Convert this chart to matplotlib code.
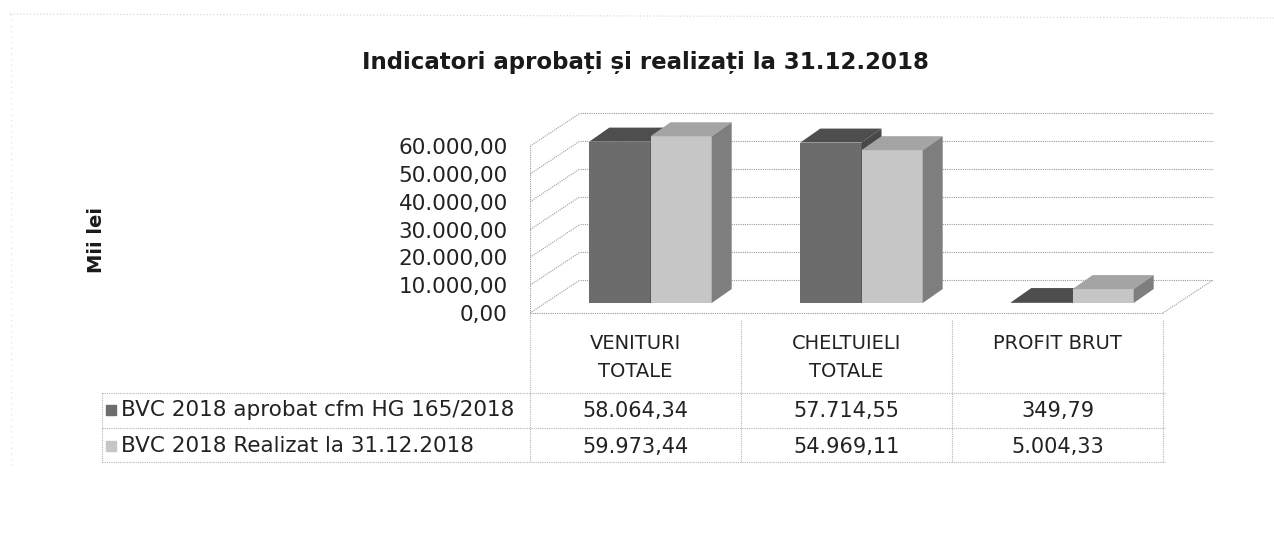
import matplotlib
matplotlib.use("Agg")
import matplotlib.pyplot as plt
from matplotlib.patches import Polygon, Rectangle
from matplotlib.transforms import blended_transform_factory

# data
categories = ["VENITURI\nTOTALE", "CHELTUIELI\nTOTALE", "PROFIT BRUT"]
series_names = ["BVC 2018 aprobat cfm HG 165/2018", "BVC 2018 Realizat la 31.12.2018"]
aprobat = [58064.34, 57714.55, 349.79]
realizat = [59973.44, 54969.11, 5004.33]
yticks = [0, 10000, 20000, 30000, 40000, 50000, 60000]

W, H = 1274, 546
plt.rcParams['font.family'] = ['DejaVu Sans']


def fx(px):
    return px / W


def fy(py):
    return 1 - py / H


def ro(v):
    # romanian number format 58.064,34
    return f"{v:,.2f}".replace(",", "X").replace(".", ",").replace("X", ".")


fig = plt.figure(figsize=(12.74, 5.46), dpi=100)
fig.patch.set_facecolor("white")

# axes: x in category units, y in value units
px_cat = 211.0          # pixels per category
px_val = 2.78 / 1000.0  # pixels per unit value
ax = fig.add_axes([fx(530), fy(329.7), 3.3 * px_cat / W, 82000 * px_val / H])
ax.set_xlim(0, 3.3)
ax.set_ylim(-6000, 76000)
for s in ax.spines.values():
    s.set_visible(False)
ax.set_xticks([])
ax.set_yticks(yticks)
ax.set_yticklabels([ro(t) for t in yticks], fontsize=15.5, color="#222222")
ax.tick_params(axis="y", length=0, pad=16)


def ddx(px):
    return px / px_cat


def ddy(px):
    return px / px_val


# wall depth and bar depth offsets
wx, wy = ddx(50), ddy(33)
bx, by = ddx(15), ddy(10)
dx, dy = ddx(20), ddy(14)
ymax = yticks[-1]
ncat = len(categories)

gkw = dict(color="#9a9a9a", lw=0.8, ls=(0, (1, 1)), zorder=1)
# left wall and back wall gridlines
for t in yticks:
    ax.plot([0, wx], [t, t + wy], **gkw)
    ax.plot([wx, ncat + wx], [t + wy, t + wy], **gkw)
ax.plot([0, 0], [0, ymax], **gkw)
# floor
ax.plot([0, ncat], [0, 0], **gkw)
ax.plot([ncat, ncat + wx], [0, wy], **gkw)

# bars (front, top, side)
w = 0.29
colors = [("#6c6c6c", "#4e4e4e", "#484848"), ("#c6c6c6", "#a4a4a4", "#7e7e7e")]
for i in range(ncat):
    for k, vals in enumerate([aprobat, realizat]):
        v = vals[i]
        xl = i + 0.5 - w + k * w + bx
        xr = xl + w
        front, top, side = colors[k]
        ax.bar(xl, v, width=w, bottom=by, align="edge", color=front,
               edgecolor="none", zorder=3 + k)
        ax.add_patch(Polygon([(xl, v + by), (xr, v + by), (xr + dx, v + by + dy),
                              (xl + dx, v + by + dy)], closed=True,
                             facecolor=top, edgecolor="none", zorder=3 + k))
        ax.add_patch(Polygon([(xr, by), (xr, v + by), (xr + dx, v + by + dy),
                              (xr + dx, by + dy)], closed=True,
                             facecolor=side, edgecolor="none", zorder=3 + k))

# title and axis title
fig.text(fx(645), fy(62), "Indicatori aprobați și realizați la 31.12.2018",
         ha="center", va="center", fontsize=16.5, fontweight="bold", color="#1a1a1a")
fig.text(fx(97), fy(240), "Mii lei", rotation=90, ha="center", va="center",
         fontsize=14, fontweight="bold", color="#1a1a1a")

# data table below the chart
tb = blended_transform_factory(ax.transData, fig.transFigure)
tkw = dict(color="#b4b4b4", lw=0.8, ls=(0, (1, 1)))
for c in range(ncat + 1):
    top_y = 313 if c == 0 else 320
    ax.plot([c, c], [fy(top_y), fy(462)], transform=tb, clip_on=False, **tkw)
for r in [393, 428, 462]:
    fig.add_artist(plt.Line2D([fx(102), fx(1165)], [fy(r), fy(r)], **tkw))
fig.add_artist(plt.Line2D([fx(102), fx(102)], [fy(393), fy(462)], **tkw))

for i, cat in enumerate(categories):
    ax.text(i + 0.5, fy(334), cat, transform=tb, ha="center", va="top",
            fontsize=14, color="#222222", linespacing=1.6)
    ax.text(i + 0.5, fy(411), ro(aprobat[i]), transform=tb, ha="center",
            va="center", fontsize=15, color="#222222")
    ax.text(i + 0.5, fy(447), ro(realizat[i]), transform=tb, ha="center",
            va="center", fontsize=15, color="#222222")

for k, (name, ry) in enumerate(zip(series_names, [410, 446])):
    fig.add_artist(Rectangle((fx(106), fy(ry + 5)), 10 / W, 10 / H,
                             transform=fig.transFigure, color=colors[k][0]))
    fig.text(fx(121), fy(ry), name, ha="left", va="center", fontsize=15.5,
             color="#222222")

# faint outer chart border
fig.add_artist(plt.Line2D([fx(10), fx(1274)], [fy(14), fy(18)], color="#d0d0d0",
                          lw=0.8, ls=(0, (1, 2))))
fig.add_artist(plt.Line2D([fx(11), fx(11)], [fy(14), fy(470)], color="#e0e0e0",
                          lw=0.8, ls=(0, (1, 4))))

fig.savefig("out.png", dpi=100, facecolor="white")
